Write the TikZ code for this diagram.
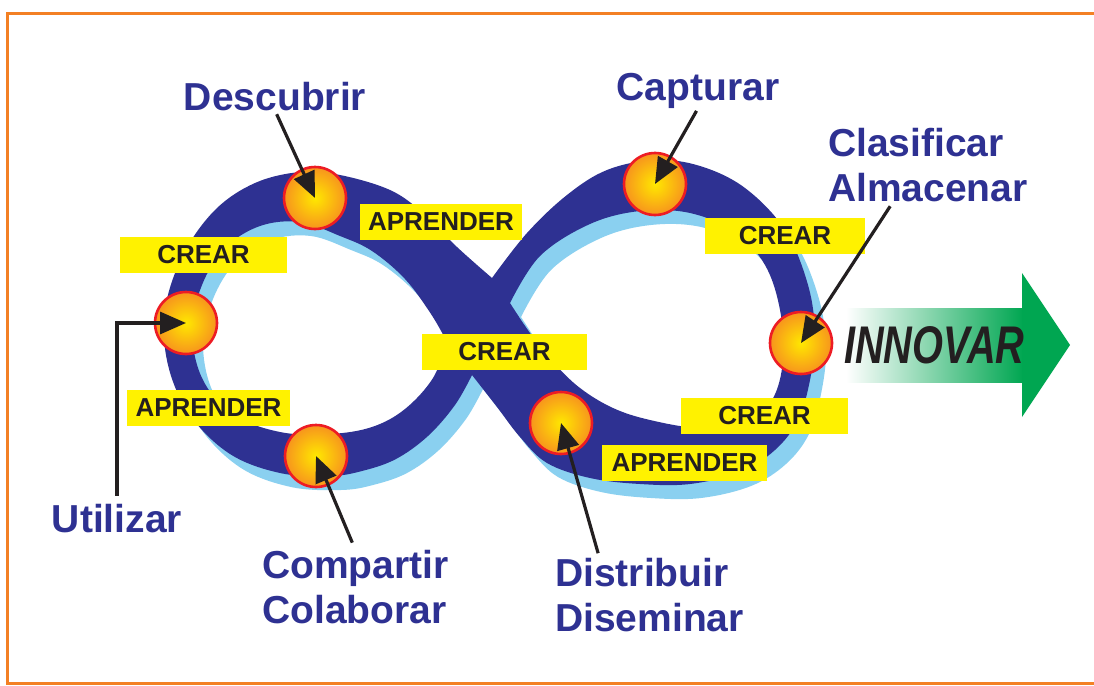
\documentclass[tikz,border=0pt]{standalone}
\usepackage{fontspec}
\setmainfont{Liberation Sans}
\usetikzlibrary{arrows.meta}
\definecolor{bandblue}{RGB}{46,49,146}
\definecolor{shadeblue}{RGB}{138,208,240}
\definecolor{tagyellow}{RGB}{255,242,0}
\definecolor{inkdark}{RGB}{35,31,32}
\definecolor{beadred}{RGB}{237,28,36}
\definecolor{beadyellow}{RGB}{255,232,0}
\definecolor{beadorange}{RGB}{247,148,29}
\definecolor{arrowgreen}{RGB}{0,166,81}
\definecolor{frameorange}{RGB}{243,128,36}

\newcommand\eightband[1]{%
\fill[#1, even odd rule]
 plot[smooth, tension=0.6] coordinates {(492,278) (457,247) (423,213) (390,190) (340,175) (300,172) (255,183) (215,210) (183,255) (165,310) (168,365) (190,415) (230,454) (280,473) (330,476) (362,471) (396,459) (428,436) (455,405) (472,375)}
 -- plot[smooth, tension=0.6] coordinates {(472,375) (497,407) (520,437) (547,463) (590,478) (640,484) (690,484) (740,472) (775,450) (798,420) (810,380) (815,335) (808,285) (785,230) (745,188) (700,166) (655,160) (607,170) (567,195) (527,233) (492,278)}
 -- cycle
 plot[smooth, tension=0.6] coordinates {(447,342) (431,314) (405,279) (372,251) (340,236) (300,222) (260,226) (225,248) (202,285) (192,330) (202,378) (232,414) (280,432) (330,434) (372,427) (405,409) (433,378) (447,342)} -- cycle
 plot[smooth, tension=0.6] coordinates {(510,303) (540,256) (590,224) (640,211) (690,213) (735,232) (765,265) (780,310) (783,360) (772,400) (745,422) (700,428) (650,420) (613,408) (580,388) (553,362) (530,333) (510,303)} -- cycle;}

\tikzset{
 word/.style={text=bandblue, font=\fontsize{39}{45}\selectfont\bfseries, inner sep=0pt},
 tag/.style={fill=tagyellow, text=inkdark, font=\fontsize{26}{26}\selectfont\bfseries, inner sep=0pt, minimum height=36pt},
 bead/.style={circle, minimum size=62pt, draw=beadred, line width=2.6pt, shading=radial, inner color=beadyellow, outer color=beadorange, inner sep=0pt},
 pointer/.style={draw=inkdark, line width=3.2pt, -{Triangle[length=26pt,width=22pt]}},
}

\begin{document}
\begin{tikzpicture}[x=1pt,y=-1pt]
\useasboundingbox (0,0) rectangle (1094,685);
\fill[white] (0,0) rectangle (1094,685);
\begin{scope}
 \clip (0,0) rectangle (1094,685);
 \draw[frameorange, line width=3pt] (7.5,13.5) rectangle (1120,683.5);
\end{scope}

% infinity band
\begin{scope}[shift={(11,14)}]
 \eightband{shadeblue}
\end{scope}
\eightband{bandblue}

% green arrow
\shade[left color=white, right color=arrowgreen] (846,308) rectangle (1023,382);
\fill[arrowgreen] (1022,273) -- (1070,345) -- (1022,417) -- cycle;
\node[font=\fontsize{53}{53}\selectfont\bfseries\itshape, text=inkdark, anchor=base west, inner sep=0pt] (tInn) at (844,363) {\scalebox{0.75}[1]{INNOVAR}};

% yellow tags
\node[tag, minimum width=167pt] (g1) at (203.5,254.5) {CREAR};
\node[tag, minimum width=162pt] (g2) at (441,222) {APRENDER};
\node[tag, minimum width=160pt] (g3) at (785,236) {CREAR};
\node[tag, minimum width=165pt] (g4) at (504.5,352) {CREAR};
\node[tag, minimum width=163pt] (g5) at (208.5,407.5) {APRENDER};
\node[tag, minimum width=167pt] (g6) at (764.5,415.5) {CREAR};
\node[tag, minimum width=165pt] (g7) at (684.5,462.5) {APRENDER};

% beads
\node[bead] (cDesc) at (315,198) {};
\node[bead] (cUtil) at (186,323) {};
\node[bead] (cComp) at (316,456) {};
\node[bead] (cCap) at (655,184) {};
\node[bead] (cDist) at (561,423) {};
\node[bead] (cClas) at (801,343) {};

% words
\node[word, anchor=base] (tDesc) at (275,110) {Descubrir};
\node[word, anchor=base] (tCap) at (698,100) {Capturar};
\node[word, anchor=north west, align=left] (tClas) at (828,128) {Clasificar\\Almacenar};
\node[word, anchor=base] (tUtil) at (117,532) {Utilizar};
\node[word, anchor=north west, align=left] (tComp) at (262,550) {Compartir\\Colaborar};
\node[word, anchor=north west, align=left] (tDist) at (555,558) {Distribuir\\Diseminar};

% pointers
\draw[pointer, shorten <=4pt] (tDesc.south) -- (cDesc.center);
\draw[pointer, shorten <=3pt] (tCap.south) -- (cCap.center);
\draw[pointer, shorten <=5pt] ([xshift=-35pt]tClas.south) -- (cClas.center);
\draw[pointer, shorten <=8pt] (tUtil.north) |- (cUtil.center);
\draw[pointer, shorten <=8pt] (tComp.north) -- (cComp.center);
\draw[pointer, shorten <=5pt] ([xshift=-50pt]tDist.north) -- (cDist.center);
\end{tikzpicture}
\end{document}
